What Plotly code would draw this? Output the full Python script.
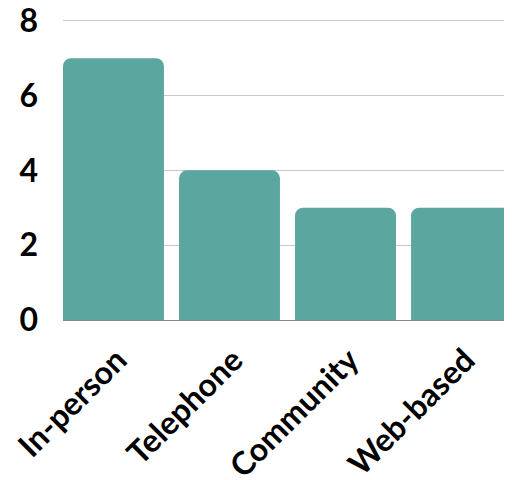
import plotly.graph_objects as go

categories = ["In-person", "Telephone", "Community", "Web-based"]
values = [7, 4, 3, 3]
y_ticks = [0, 2, 4, 6, 8]

gap = 0.13
fig = go.Figure(go.Bar(
    x=categories, y=values,
    marker=dict(color="#5ba69e", line=dict(width=0)),
))
fig.update_layout(
    width=504, height=472,
    margin=dict(l=55, r=0, t=9, b=160, pad=0),
    paper_bgcolor="white", plot_bgcolor="white",
    bargap=gap, barcornerradius=8,
    showlegend=False,
    font=dict(family="Lato", color="black", size=32, weight=700),
)
fig.update_yaxes(
    range=[0, 8.1], tickvals=y_ticks, showgrid=True, gridcolor="#c8c8c8", gridwidth=1,
    zeroline=True, zerolinecolor="#888888", zerolinewidth=1,
    ticklabelstandoff=24, tickfont=dict(size=32), showline=False, automargin=False,
    ticklabeloverflow="allow",
)
fig.update_xaxes(
    range=[-0.5 + gap / 2, len(categories) - 0.5 - gap / 2],
    tickangle=-45, tickfont=dict(size=32), showline=False, ticks="", automargin=False,
    ticklabeloverflow="allow", ticklabelstandoff=14, ticklabelshift=4,
)
fig.write_html("out.html")
